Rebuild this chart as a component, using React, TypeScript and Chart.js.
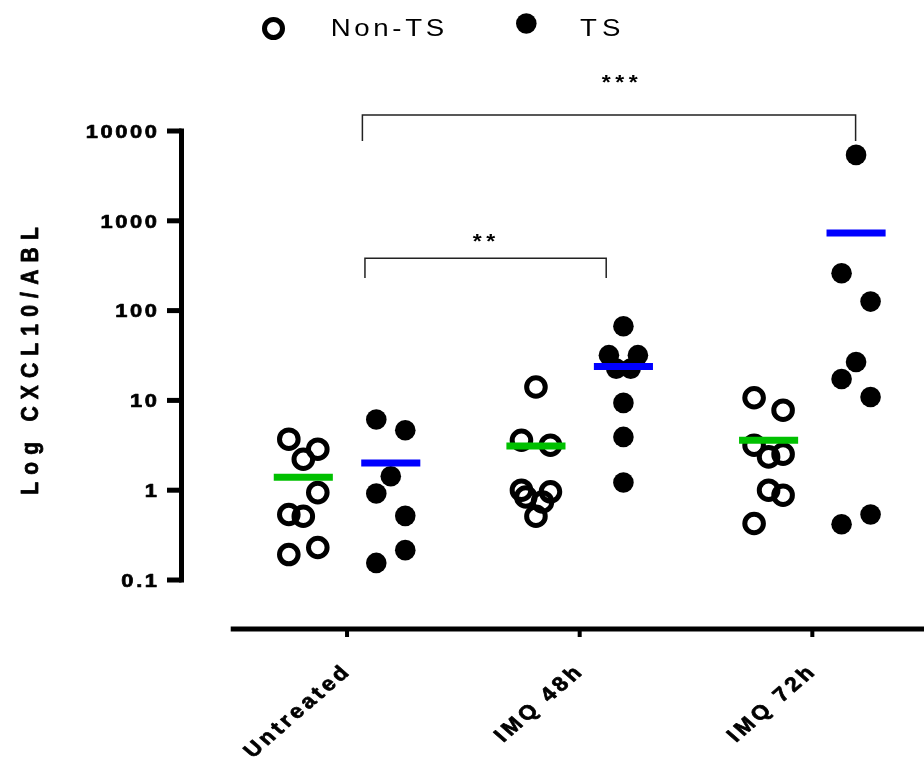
import React, { useEffect, useRef } from 'react';
import { Chart, registerables } from 'chart.js';

Chart.register(...registerables);

// ---------- data ----------
const categories = ['Untreated', 'IMQ 48h', 'IMQ 72h'];
const seriesNames = ['Non-TS', 'TS'];
const yTickValues = [0.1, 1, 10, 100, 1000, 10000];
const yTickLabels = ['0.1', '1', '10', '100', '1000', '10000'];
const yTitle = 'Log CXCL10/ABL';

const nonTSValues = [
  [3.7, 2.86, 2.21, 0.94, 0.536, 0.513, 0.192, 0.23],
  [14.1, 3.6, 3.17, 1.0, 0.96, 0.84, 0.74, 0.513],
  [10.7, 7.78, 3.17, 2.35, 2.52, 1.0, 0.88, 0.426],
];
const nonTSJitter = [
  [-1, 1, 0, 1, -1, 0, -1, 1],
  [0, -1, 1, -1, 1, -0.7, 0.45, 0],
  [-1, 1, -1, 0, 1, 0, 1, -1],
];
const tsValues = [
  [6.13, 4.66, 1.43, 0.918, 0.518, 0.215, 0.155],
  [67.0, 31.9, 31.9, 22.6, 22.6, 9.38, 3.92, 1.22],
  [5420, 261, 126, 26.8, 17.3, 10.9, 0.536, 0.418],
];
const tsJitter = [
  [-1, 1, 0, -1, 1, 1, -1],
  [0, -1, 1, -0.5, 0.5, 0, 0, 0],
  [0, -1, 1, 0, -1, 1, 1, -1],
];

const bracketLabels = ['**', '***'];
const bracketFrom = [0.077, 0.066];
const bracketTo = [1.114, 2.186];
const bracketTop = [383, 15060];
const bracketDrop = [230, 7740];
const bracketLabelX = [0.589, 1.172];
const bracketLabelY = [652, 38600];

// ---------- layout constants ----------
const W = 924;
const H = 767;
const GROUP_OFF = 0.188;
const JITTER = 0.0623;
const HALF_MEAN = 0.127;
const SX = 1.15;
const GREEN = '#00c000';
const BLUE = '#0000ff';
const FONT = '"Liberation Sans", Arial, sans-serif';

const mean = (a: number[]) => a.reduce((s, v) => s + v, 0) / a.length;

function drawSpaced(
  ctx: CanvasRenderingContext2D,
  text: string,
  x: number,
  y: number,
  font: string,
  spacing: number,
  align: 'left' | 'center' | 'right',
  rot = 0,
  weight = 0,
  sx = SX
) {
  ctx.save();
  ctx.translate(x, y);
  ctx.scale(sx, 1);
  ctx.rotate(rot);
  ctx.font = font;
  ctx.textAlign = 'left';
  ctx.textBaseline = 'alphabetic';
  ctx.fillStyle = '#000';
  ctx.strokeStyle = '#000';
  ctx.lineWidth = weight;
  ctx.lineJoin = 'round';
  const chars = Array.from(text);
  const widths = chars.map((c) => ctx.measureText(c).width);
  const total = widths.reduce((s, w) => s + w, 0) + spacing * (chars.length - 1);
  let cx = align === 'left' ? 0 : align === 'center' ? -total / 2 : -total;
  chars.forEach((c, i) => {
    ctx.fillText(c, cx, 0);
    if (weight > 0) ctx.strokeText(c, cx, 0);
    cx += widths[i] + spacing;
  });
  ctx.restore();
}

const decorPlugin = {
  id: 'decor',
  afterDraw(chart: any) {
    const { ctx, chartArea } = chart;
    const xs = chart.scales.x;
    const ys = chart.scales.y;
    ctx.save();
    ctx.fillStyle = '#000';

    // y axis spine + ticks + labels
    const spineX = chartArea.left + 1.5;
    const yTop = ys.getPixelForValue(yTickValues[yTickValues.length - 1]);
    const yBot = ys.getPixelForValue(yTickValues[0]);
    ctx.fillRect(spineX - 2.5, yTop - 2.5, 5, yBot - yTop + 5);
    yTickValues.forEach((v, i) => {
      const py = ys.getPixelForValue(v);
      ctx.fillRect(spineX - 14.5, py - 2.5, 14.5, 5);
      drawSpaced(ctx, yTickLabels[i], 157, py + 6.8, `bold 19px ${FONT}`, 2.3, 'right', 0, 0.7);
    });

    // y title
    drawSpaced(ctx, yTitle, 38, 361, `bold 21px ${FONT}`, 7.2, 'center', -Math.PI / 2, 0.7);

    // x axis
    const axisY = chartArea.bottom + 49;
    const xStart = xs.getPixelForValue(-0.5);
    ctx.fillRect(xStart, axisY - 2.5, W - xStart, 5);
    categories.forEach((c, i) => {
      const px = xs.getPixelForValue(i);
      ctx.fillRect(px - 2, axisY, 4, 8);
      drawSpaced(ctx, c, px + 3, axisY + 45, `bold 20px ${FONT}`, 3.3, 'right', -Math.PI / 4, 0.7);
    });

    // significance brackets
    ctx.strokeStyle = '#222';
    ctx.lineWidth = 1.5;
    bracketLabels.forEach((lab, i) => {
      const x1 = xs.getPixelForValue(bracketFrom[i]);
      const x2 = xs.getPixelForValue(bracketTo[i]);
      const yt = ys.getPixelForValue(bracketTop[i]);
      const yd = ys.getPixelForValue(bracketDrop[i]);
      ctx.beginPath();
      ctx.moveTo(x1, yd);
      ctx.lineTo(x1, yt);
      ctx.lineTo(x2, yt);
      ctx.lineTo(x2, yd);
      ctx.stroke();
      const lx = xs.getPixelForValue(bracketLabelX[i]);
      const ly = ys.getPixelForValue(bracketLabelY[i]);
      drawSpaced(ctx, lab, lx, ly + 11, `bold 20px ${FONT}`, 4, 'center');
    });

    // legend
    ctx.lineWidth = 5;
    ctx.strokeStyle = '#000';
    ctx.beginPath();
    ctx.arc(273.5, 28.5, 9, 0, Math.PI * 2);
    ctx.stroke();
    drawSpaced(ctx, seriesNames[0], 330.7, 36, `24px ${FONT}`, 3.2, 'left');
    ctx.beginPath();
    ctx.arc(526.3, 23.5, 10.3, 0, Math.PI * 2);
    ctx.fill();
    drawSpaced(ctx, seriesNames[1], 580, 36, `24px ${FONT}`, 4.5, 'left');

    ctx.restore();
  },
};

export default function App() {
  const ref = useRef<HTMLCanvasElement | null>(null);

  useEffect(() => {
    if (!ref.current) return;
    const datasets: any[] = [];

    // mean lines (drawn on top)
    categories.forEach((_, i) => {
      const mN = mean(nonTSValues[i]);
      const mT = mean(tsValues[i]);
      datasets.push({
        data: [
          { x: i - GROUP_OFF - HALF_MEAN, y: mN },
          { x: i - GROUP_OFF + HALF_MEAN, y: mN },
        ],
        showLine: true,
        borderColor: GREEN,
        borderWidth: 7,
        borderCapStyle: 'butt',
        pointRadius: 0,
        order: 0,
        clip: false,
      });
      datasets.push({
        data: [
          { x: i + GROUP_OFF - HALF_MEAN, y: mT },
          { x: i + GROUP_OFF + HALF_MEAN, y: mT },
        ],
        showLine: true,
        borderColor: BLUE,
        borderWidth: 7,
        borderCapStyle: 'butt',
        pointRadius: 0,
        order: 0,
        clip: false,
      });
    });

    // points
    datasets.push({
      label: seriesNames[0],
      data: nonTSValues.flatMap((vals, i) =>
        vals.map((v, j) => ({ x: i - GROUP_OFF + nonTSJitter[i][j] * JITTER, y: v }))
      ),
      pointRadius: 9.3,
      pointBorderWidth: 5,
      pointBorderColor: '#000',
      pointBackgroundColor: 'rgba(0,0,0,0)',
      borderColor: '#000',
      backgroundColor: 'rgba(0,0,0,0)',
      showLine: false,
      order: 1,
      clip: false,
    });
    datasets.push({
      label: seriesNames[1],
      data: tsValues.flatMap((vals, i) =>
        vals.map((v, j) => ({ x: i + GROUP_OFF + tsJitter[i][j] * JITTER, y: v }))
      ),
      pointRadius: 10.3,
      pointBorderWidth: 0,
      pointBackgroundColor: '#000',
      backgroundColor: '#000',
      borderColor: '#000',
      showLine: false,
      order: 1,
      clip: false,
    });

    const chart = new Chart(ref.current, {
      type: 'scatter',
      data: { datasets },
      options: {
        responsive: false,
        animation: false,
        devicePixelRatio: 1,
        events: [],
        layout: { autoPadding: false, padding: { left: 180, right: 0, top: 131, bottom: 187 } },
        scales: {
          x: { type: 'linear', min: -0.718, max: 2.48, display: false },
          y: { type: 'logarithmic', min: 0.1, max: 10000, display: false },
        },
        plugins: {
          legend: { display: false },
          tooltip: { enabled: false },
        },
      },
      plugins: [decorPlugin],
    } as any);

    return () => chart.destroy();
  }, []);

  return (
    <div style={{ position: 'fixed', left: 0, top: 0, width: W, height: H, background: '#fff' }}>
      <canvas ref={ref} width={W} height={H} style={{ display: 'block', width: W, height: H }} />
    </div>
  );
}
